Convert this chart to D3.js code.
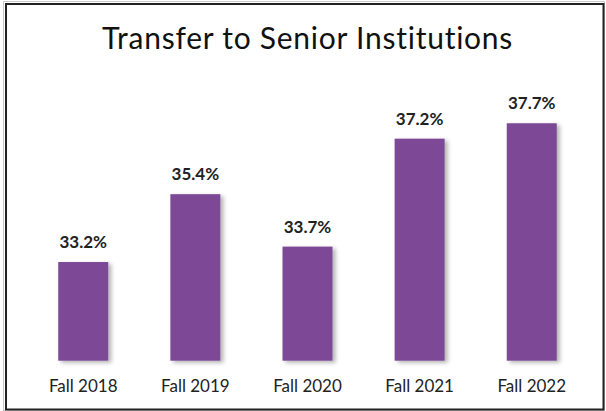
<!DOCTYPE html>
<html>
<head>
<meta charset="utf-8">
<script src="https://cdn.jsdelivr.net/npm/d3@7"></script>
<style>
  body { margin: 0; background: #fff; }
  svg { display: block; }
</style>
</head>
<body>
<svg id="chart" width="606" height="411"></svg>
<script>
const categories = ["Fall 2018", "Fall 2019", "Fall 2020", "Fall 2021", "Fall 2022"];
const transferRates = [33.2, 35.4, 33.7, 37.2, 37.7];
const valueLabels = ["33.2%", "35.4%", "33.7%", "37.2%", "37.7%"];
const chartTitle = "Transfer to Senior Institutions";

let svg = d3.select("#chart"),
    width = +svg.attr("width"),
    height = +svg.attr("height");

// drop shadow like the office chart
let defs = svg.append("defs");
defs.append("filter")
  .attr("id", "shadow")
  .attr("x", "-20%").attr("y", "-10%")
  .attr("width", "150%").attr("height", "130%")
  .append("feDropShadow")
  .attr("dx", 3).attr("dy", 2)
  .attr("stdDeviation", 2)
  .attr("flood-color", "#000")
  .attr("flood-opacity", 0.3);

// frame
svg.append("rect")
  .attr("x", 3.5).attr("y", 1.5)
  .attr("width", 601).attr("height", 409)
  .attr("fill", "none").attr("stroke", "#c8c8c8").attr("stroke-width", 1);
svg.append("rect")
  .attr("x", 6).attr("y", 4)
  .attr("width", 597.5).attr("height", 405.5)
  .attr("fill", "#fff").attr("stroke", "#222").attr("stroke-width", 2);

let x = d3.scaleBand()
  .domain(categories)
  .range([33, 582])
  .paddingInner(0.554)
  .paddingOuter(0.225);

let y = d3.scaleLinear()
  .domain([30, 38])
  .range([360.7, 114]);

svg.append("text")
  .attr("x", 307.5)
  .attr("y", 49)
  .attr("text-anchor", "middle")
  .style("font", "30px Lato")
  .style("letter-spacing", "0.75px")
  .attr("fill", "#111")
  .text(chartTitle);

let bars = svg.append("g");

bars.selectAll("rect")
  .data(transferRates)
  .enter()
  .append("rect")
  .attr("x", (d, i) => x(categories[i]))
  .attr("y", d => y(d))
  .attr("width", x.bandwidth())
  .attr("height", d => y(30) - y(d))
  .attr("fill", "#7d4a97")
  .attr("filter", "url(#shadow)");

bars.selectAll("text.val")
  .data(transferRates)
  .enter()
  .append("text")
  .attr("class", "val")
  .attr("x", (d, i) => x(categories[i]) + x.bandwidth() / 2)
  .attr("y", d => y(d) - 14)
  .attr("text-anchor", "middle")
  .style("font", "bold 17px Lato")
  .attr("fill", "#222")
  .text((d, i) => valueLabels[i]);

let xAxis = d3.axisBottom(x).tickSize(0).tickPadding(0);

let gx = svg.append("g")
  .attr("transform", "translate(0," + y(30) + ")")
  .call(xAxis);

gx.select(".domain").remove();
gx.selectAll("text")
  .attr("dy", null)
  .attr("y", 31.5)
  .style("font", "17px Lato")
  .attr("fill", "#222");
</script>
</body>
</html>
